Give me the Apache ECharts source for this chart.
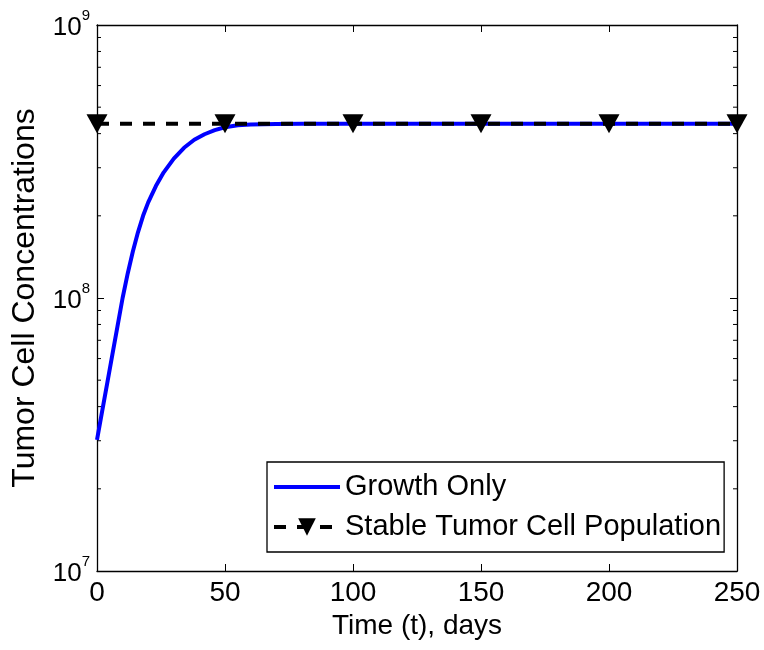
<!DOCTYPE html>
<html>
<head>
<meta charset="utf-8">
<script src="https://cdn.jsdelivr.net/npm/echarts@6/dist/echarts.min.js"></script>
<style>
  html, body { margin: 0; padding: 0; background: #fff; }
  #chart { width: 764px; height: 650px; }
</style>
</head>
<body>
<div id="chart"></div>
<script>
// Tumor growth curve (days vs. cell count) and the stable population level
const days = [0, 2, 4, 6, 8, 10, 12, 14, 16, 18, 20, 23, 26, 30, 34, 38, 42, 46, 50, 55, 60, 70, 80, 100, 150, 200, 250];
const growthOnly = [3.02e7, 3.84e7, 4.88e7, 6.2e7, 7.87e7, 1.0e8, 1.23e8, 1.48e8, 1.74e8, 2.0e8, 2.24e8, 2.57e8, 2.88e8, 3.24e8, 3.55e8, 3.8e8, 3.98e8, 4.12e8, 4.22e8, 4.29e8, 4.32e8, 4.34e8, 4.35e8, 4.35e8, 4.35e8, 4.35e8, 4.35e8];

const markerDays = [0, 50, 100, 150, 200, 250];
const stableLevel = [4.35e8, 4.35e8, 4.35e8, 4.35e8, 4.35e8, 4.35e8];

const xTicks = [0, 50, 100, 150, 200, 250];
const yMin = 1e7, yMax = 1e9;
const minorTicks = [2e7, 3e7, 4e7, 5e7, 6e7, 7e7, 8e7, 9e7, 2e8, 3e8, 4e8, 5e8, 6e8, 7e8, 8e8, 9e8];

const FONT = '"Liberation Sans", Arial, Helvetica, sans-serif';
const xMin = xTicks[0], xMax = xTicks[xTicks.length - 1];

const chart = echarts.init(document.getElementById('chart'), null, { renderer: 'canvas' });

const supLabel = v => {
  const e = Math.round(Math.log10(v));
  return '{b|10}{s|' + e + '}';
};

const frameLine = { color: '#000', width: 1.3 };
const innerTick = { show: true, inside: true, length: 7, lineStyle: { color: '#000', width: 1 } };

chart.setOption({
  animation: false,
  backgroundColor: '#ffffff',
  grid: { left: 97, right: 27, top: 25, bottom: 79, containLabel: false },
  xAxis: [{
    type: 'value', min: xMin, max: xMax, interval: 50, position: 'bottom',
    name: 'Time (t), days', nameLocation: 'middle', nameGap: 40,
    nameTextStyle: { fontFamily: FONT, fontSize: 28, color: '#000' },
    axisLine: { show: true, onZero: false, lineStyle: frameLine },
    axisTick: innerTick,
    axisLabel: { fontFamily: FONT, fontSize: 28, color: '#000', margin: 8 },
    splitLine: { show: false }
  }, {
    type: 'value', min: xMin, max: xMax, interval: 50, position: 'top',
    axisLine: { show: true, onZero: false, lineStyle: frameLine },
    axisTick: innerTick,
    axisLabel: { show: false },
    splitLine: { show: false }
  }],
  yAxis: [{
    type: 'log', logBase: 10, min: yMin, max: yMax, position: 'left',
    name: 'Tumor Cell Concentrations', nameLocation: 'middle', nameGap: 56,
    nameTextStyle: { fontFamily: FONT, fontSize: 32, color: '#000' },
    axisLine: { show: true, onZero: false, lineStyle: frameLine },
    axisTick: innerTick,
    axisLabel: {
      margin: 7,
      padding: [6, 0, 0, 0],
      formatter: supLabel,
      rich: {
        b: { fontFamily: FONT, fontSize: 26, color: '#000', lineHeight: 40 },
        s: { fontFamily: FONT, fontSize: 15, color: '#000', lineHeight: 14, verticalAlign: 'top' }
      }
    },
    splitLine: { show: false }
  }, {
    type: 'log', logBase: 10, min: yMin, max: yMax, position: 'right',
    axisLine: { show: true, onZero: false, lineStyle: frameLine },
    axisTick: innerTick,
    axisLabel: { show: false },
    splitLine: { show: false }
  }],
  legend: {
    orient: 'vertical', left: 267, top: 462,
    padding: [9, 3, 9, 5], itemGap: 8,
    itemWidth: 66, itemHeight: 22,
    backgroundColor: '#fff', borderColor: '#000', borderWidth: 1.3, borderRadius: 0,
    textStyle: { fontFamily: FONT, fontSize: 29, color: '#000', lineHeight: 32 },
    lineStyle: { width: 4 },
    data: [
      { name: 'Growth Only', itemStyle: { opacity: 0 } },
      { name: 'Stable Tumor Cell Population' }
    ]
  },
  series: [
    {
      // minor log ticks on the left and right frame edges
      type: 'custom', silent: true, clip: false, z: 1,
      xAxisIndex: 0, yAxisIndex: 0,
      data: minorTicks.map(v => [xMin, v]),
      renderItem: (params, api) => {
        const v = api.value(1);
        const pl = api.coord([xMin, v]);
        const pr = api.coord([xMax, v]);
        const style = { stroke: '#000', lineWidth: 1 };
        return {
          type: 'group',
          children: [
            { type: 'line', shape: { x1: pl[0], y1: pl[1], x2: pl[0] + 4, y2: pl[1] }, style },
            { type: 'line', shape: { x1: pr[0], y1: pr[1], x2: pr[0] - 4, y2: pr[1] }, style }
          ]
        };
      }
    },
    {
      name: 'Growth Only', type: 'line',
      data: days.map((d, i) => [d, growthOnly[i]]),
      smooth: false,
      symbol: 'none', showSymbol: false,
      lineStyle: { color: '#0000ff', width: 4, join: 'round' },
      itemStyle: { color: '#0000ff' },
      z: 3
    },
    {
      name: 'Stable Tumor Cell Population', type: 'line',
      data: markerDays.map((d, i) => [d, stableLevel[i]]),
      symbol: 'triangle', symbolRotate: 180, symbolSize: [21, 19],
      lineStyle: { color: '#000', width: 4, type: [12, 11] },
      itemStyle: { color: '#000', borderColor: '#000', borderWidth: 0 },
      z: 4
    }
  ]
});
</script>
</body>
</html>
